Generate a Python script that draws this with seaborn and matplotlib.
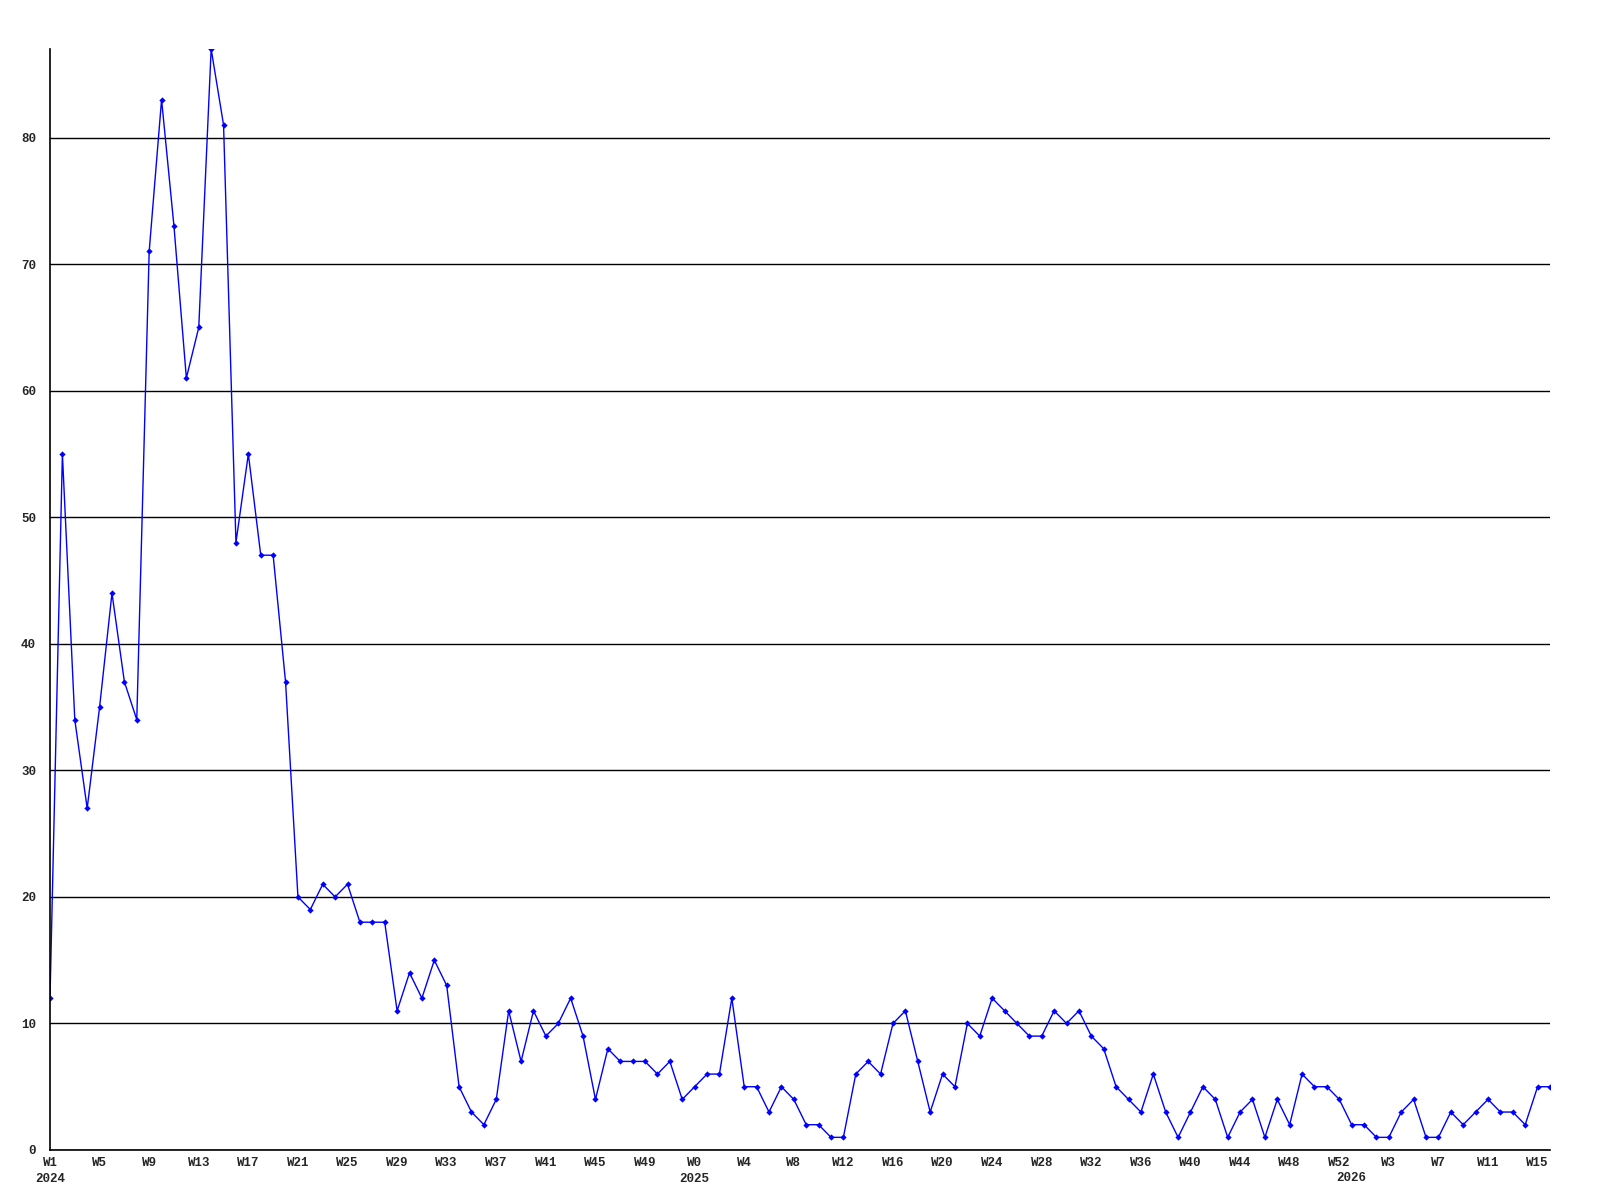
import numpy as np
import pandas as pd
import matplotlib
matplotlib.use("Agg")
import matplotlib.pyplot as plt
import matplotlib.transforms as mtransforms
import seaborn as sns

# ---- data ----
values_2024 = [12, 55, 34, 27, 35, 44, 37, 34, 71, 83, 73, 61, 65, 87, 81, 48, 55, 47, 47, 37,
               20, 19, 21, 20, 21, 18, 18, 18, 11, 14, 12, 15, 13, 5, 3, 2, 4, 11, 7, 11,
               9, 10, 12, 9, 4, 8, 7, 7, 7, 6, 7, 4]
weeks_2024 = list(range(1, 53))
values_2025 = [5, 6, 6, 12, 5, 5, 3, 5, 4, 2, 2, 1, 1, 6, 7, 6, 10, 11, 7, 3,
               6, 5, 10, 9, 12, 11, 10, 9, 9, 11, 10, 11, 9, 8, 5, 4, 3, 6, 3, 1,
               3, 5, 4, 1, 3, 4, 1, 4, 2, 6, 5, 5, 4]
weeks_2025 = list(range(0, 53))
values_2026 = [2, 2, 1, 1, 3, 4, 1, 1, 3, 2, 3, 4, 3, 3, 2, 5, 5]
weeks_2026 = list(range(0, 17))
years = ["2024", "2025", "2026"]
y_ticks = [0, 10, 20, 30, 40, 50, 60, 70, 80]

week_labels = ([f"W{w}" for w in weeks_2024] + [f"W{w}" for w in weeks_2025]
               + [f"W{w}" for w in weeks_2026])
values = values_2024 + values_2025 + values_2026
year_of = ([years[0]] * len(weeks_2024) + [years[1]] * len(weeks_2025)
           + [years[2]] * len(weeks_2026))
df = pd.DataFrame({"idx": np.arange(len(values)), "value": values,
                   "week": week_labels, "year": year_of})

# ---- figure ----
sns.set_style("white")
mono = ["Liberation Mono", "DejaVu Sans Mono"]
fs = 9
fig = plt.figure(figsize=(16, 12), dpi=100)
ax = fig.add_axes([50 / 1600, 1 - 1150 / 1200, 1500 / 1600, (1150 - 49) / 1200])

sns.lineplot(data=df, x="idx", y="value", ax=ax, color="#0000FF", lw=1,
             marker="D", markersize=3.2, markeredgewidth=0, clip_on=True)

ax.set_xlim(df["idx"].min(), df["idx"].max())
ax.set_ylim(0, max(values))

# gridlines
ax.set_yticks(y_ticks)
ax.set_yticklabels([str(t) for t in y_ticks], fontsize=fs, fontweight="bold", family=mono)
ax.yaxis.grid(True, color="black", lw=1)
ax.set_axisbelow(True)

# year starts
first_idx = df.groupby("year")["idx"].min()
start_map = {int(i): y for y, i in first_idx.items()}

# x tick labels every 4 points (year appended when tick is a year start)
tick_idx = df["idx"].values[::4]
tick_set = set(int(t) for t in tick_idx)
labels = []
for i in tick_idx:
    lab = df["week"].values[i]
    if int(i) in start_map:
        lab = lab + "\n" + start_map[int(i)]
    labels.append(lab)
ax.set_xticks(tick_idx)
ax.set_xticklabels(labels, fontsize=fs, fontweight="bold", family=mono,
                   linespacing=1.45, va="top")

# year labels that do not fall on a tick
base = mtransforms.blended_transform_factory(ax.transData, ax.transAxes)
for i, y in start_map.items():
    if i not in tick_set:
        t = ax.text(i, 0, y, fontsize=fs, fontweight="bold", family=mono,
                    ha="center", va="top")
        t.set_transform(base + mtransforms.ScaledTranslation(0, -22 / 100, fig.dpi_scale_trans))

ax.tick_params(axis="both", which="both", length=0)
ax.tick_params(axis="x", which="both", pad=5)
ax.tick_params(axis="y", pad=10)

for s in ["top", "right"]:
    ax.spines[s].set_visible(False)
for s in ["left", "bottom"]:
    ax.spines[s].set_color("black")
    ax.spines[s].set_linewidth(1.2)

ax.set_xlabel("")
ax.set_ylabel("")

fig.savefig("out.png", dpi=100, facecolor="white")
